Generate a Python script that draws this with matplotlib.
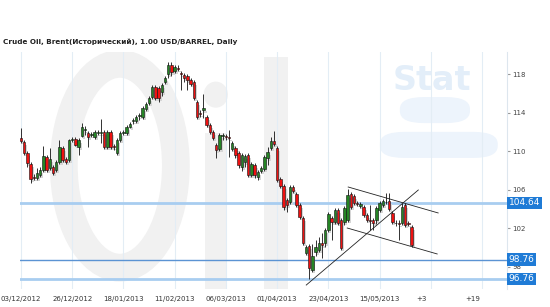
import matplotlib.pyplot as plt
from matplotlib.patches import FancyBboxPatch, Ellipse, Rectangle
import numpy as np

# daily OHLC (bar 0 = 03/12/2012)
opens = [111.37, 110.95, 109.81, 108.67, 107.33, 107.22, 107.53, 108.05, 109.40, 108.26,
         108.36, 108.05, 108.88, 110.33, 109.19, 109.09, 111.16, 111.26, 110.44, 111.58,
         112.20, 111.89, 111.68, 111.47, 111.89, 111.89, 111.99, 110.44, 111.99, 110.54,
         109.81, 111.16, 111.89, 111.89, 112.51, 113.13, 113.13, 113.65, 113.54, 114.37,
         114.99, 115.62, 116.65, 116.55, 116.13, 117.17, 118.00, 118.96, 118.31, 118.62,
         118.10, 117.90, 117.79, 117.38, 117.17, 115.10, 113.96, 114.27, 113.54, 112.72,
         111.99, 110.64, 110.23, 111.58, 111.58, 111.47, 110.23, 110.33, 109.81, 108.36,
         108.88, 109.61, 107.53, 108.57, 107.33, 107.95, 108.16, 109.30, 110.33, 111.06,
         110.33, 107.12, 106.39, 104.94, 104.74, 106.29, 105.56, 104.42, 103.08, 99.45,
         100.18, 97.69, 99.55, 99.76, 100.49, 100.49, 101.83, 103.08, 102.66, 103.91,
         102.87, 102.66, 102.87, 105.56, 105.36, 104.63, 104.32, 104.22, 103.39, 102.87,
         102.87, 102.87, 103.91, 104.42, 104.74, 104.84, 103.60, 102.56, 102.56, 102.56,
         104.42, 102.56, 102.15]
highs = [112.40, 111.16, 110.02, 108.88, 107.64, 108.26, 108.36, 110.54, 109.61, 110.33,
         108.57, 109.09, 111.16, 110.54, 109.40, 111.26, 111.47, 111.47, 111.37, 112.92,
         112.61, 112.09, 111.99, 112.20, 112.20, 113.34, 112.20, 112.20, 112.20, 110.75,
         111.37, 112.09, 112.20, 112.72, 113.03, 113.44, 113.75, 113.96, 114.68, 115.10,
         115.72, 116.86, 116.86, 116.76, 117.07, 117.79, 119.24, 119.24, 118.96, 118.93,
         118.31, 118.10, 118.00, 117.59, 117.38, 115.31, 114.27, 115.93, 113.75, 112.92,
         112.20, 110.85, 111.89, 111.89, 111.78, 112.20, 111.06, 110.54, 110.02, 109.81,
         109.71, 109.81, 108.88, 108.78, 108.05, 108.47, 109.61, 110.44, 111.47, 112.09,
         110.54, 107.33, 106.60, 105.15, 106.50, 106.50, 105.77, 104.63, 103.28, 100.28,
         100.38, 100.38, 100.80, 101.11, 101.52, 102.04, 103.70, 103.28, 104.11, 104.11,
         103.08, 104.32, 106.08, 105.77, 105.56, 104.84, 104.74, 104.42, 103.60, 104.42,
         103.08, 104.32, 104.84, 105.05, 105.67, 105.67, 103.80, 102.87, 102.87, 104.63,
         104.63, 102.77, 102.35]
lows = [110.85, 109.61, 108.36, 106.70, 107.02, 107.02, 107.33, 107.84, 107.84, 108.05,
        107.53, 107.84, 108.67, 108.88, 108.67, 108.88, 110.95, 110.54, 109.61, 111.47,
        111.68, 110.44, 111.47, 111.26, 111.68, 110.85, 110.23, 110.23, 110.23, 110.12,
        109.61, 110.95, 111.68, 111.68, 112.40, 112.82, 112.92, 113.23, 113.34, 114.17,
        114.79, 115.41, 115.31, 115.10, 115.72, 116.96, 117.59, 117.79, 118.10, 118.31,
        116.34, 117.17, 116.34, 116.76, 115.31, 113.34, 113.54, 113.44, 112.51, 111.78,
        111.16, 109.30, 110.02, 111.16, 111.16, 109.40, 110.02, 109.30, 108.26, 107.95,
        108.36, 107.33, 107.33, 107.22, 107.02, 107.74, 107.95, 108.57, 110.12, 110.54,
        106.81, 106.19, 103.91, 103.70, 104.53, 105.67, 104.22, 102.97, 100.28, 99.24,
        96.76, 97.48, 99.14, 99.55, 98.93, 100.07, 101.63, 100.80, 102.46, 102.35,
        99.76, 102.35, 102.66, 104.01, 104.42, 104.32, 104.11, 103.18, 102.66, 101.83,
        101.83, 102.46, 103.70, 104.22, 104.53, 103.80, 102.46, 102.25, 100.80, 102.35,
        102.15, 102.25, 100.07]
closes = [111.06, 109.81, 108.78, 107.12, 107.22, 107.74, 108.05, 109.50, 108.05, 109.19,
          107.74, 108.88, 110.44, 109.09, 108.88, 111.16, 111.26, 110.64, 111.16, 112.51,
          112.30, 111.47, 111.78, 111.99, 111.99, 111.99, 110.44, 111.99, 110.44, 110.44,
          111.16, 111.89, 111.99, 112.51, 112.82, 113.23, 113.54, 113.75, 114.48, 114.89,
          115.51, 116.65, 115.51, 115.51, 116.86, 117.59, 118.93, 118.21, 118.73, 118.57,
          118.00, 117.59, 117.38, 116.96, 115.51, 113.54, 113.85, 114.48, 112.72, 111.99,
          111.37, 110.12, 111.68, 111.68, 111.47, 111.37, 110.85, 109.61, 108.57, 109.61,
          109.50, 107.53, 108.67, 107.53, 107.84, 108.26, 109.40, 109.92, 111.06, 110.75,
          107.02, 106.39, 104.22, 104.42, 106.29, 105.88, 104.42, 103.18, 100.49, 100.07,
          97.90, 99.14, 100.07, 100.49, 100.28, 101.83, 103.49, 102.66, 103.91, 102.56,
          99.97, 104.11, 105.46, 104.22, 104.63, 104.53, 104.53, 103.39, 102.87, 102.77,
          102.56, 104.11, 104.63, 104.84, 104.74, 104.01, 102.66, 102.56, 102.46, 104.22,
          102.35, 102.46, 100.28]

# x axis
tick_pos = [0, 16, 32, 48, 64, 80, 96, 112, 125, 141]
tick_labels = ['03/12/2012', '26/12/2012', '18/01/2013', '11/02/2013', '06/03/2013',
               '01/04/2013', '23/04/2013', '15/05/2013', '+3', '+19']
grid_pos = [0, 16, 32, 48, 64, 80, 96, 112, 128, 144]
y_ticks = [98, 102, 106, 110, 114, 118]

# horizontal levels
levels = [104.64, 98.76, 96.76]
level_colors = ['#a8cdf0', '#5b93d3', '#a8cdf0']
level_widths = [2.0, 1.0, 2.0]

# trend lines: (x0, y0, x1, y1) in bar / price
trend_lines = [(89.1, 96.13, 124.1, 105.98),
               (102.2, 106.29, 130.3, 103.60),
               (101.9, 102.04, 130.0, 99.35)]

opens = np.array(opens)
highs = np.array(highs)
lows = np.array(lows)
closes = np.array(closes)
x = np.arange(len(opens))

fig = plt.figure(figsize=(5.5, 3.07), dpi=100)
ax = fig.add_axes([20 / 550, 1 - 289 / 307, 487 / 550, 237 / 307])
ax.set_xlim(-0.3, 151.8)
ax.set_ylim(95.72, 120.28)

# faint "OilStat" watermark
wm = '#f1f1f1'
T = ax.transAxes
ax.add_patch(Ellipse((0.205, 0.52), 0.23, 0.86, fill=False, ec=wm, lw=20, transform=T, zorder=0))
ax.add_patch(Rectangle((0.38, 0.0), 0.045, 0.66, color=wm, transform=T, zorder=0, lw=0))
ax.add_patch(Ellipse((0.402, 0.82), 0.05, 0.11, color=wm, transform=T, zorder=0, lw=0))
ax.add_patch(Rectangle((0.50, 0.0), 0.05, 0.98, color=wm, transform=T, zorder=0, lw=0))
ax.text(0.766, 0.81, 'Stat', transform=T, fontsize=24, fontweight='bold',
        color='#e3eef9', ha='left', va='bottom', zorder=0)
for xb, yb, wb in [(0.78, 0.70, 0.144), (0.739, 0.553, 0.242)]:
    ax.add_patch(FancyBboxPatch((xb, yb), wb, 0.11, boxstyle='round,pad=0,rounding_size=0.05',
                                transform=T, color='#edf4fc', zorder=0, lw=0))

for g in grid_pos:
    ax.axvline(g, color='#e3edf5', lw=0.8, zorder=1)

for lv, lc, lw in zip(levels, level_colors, level_widths):
    ax.axhline(lv, color=lc, lw=lw, zorder=2)

up = closes >= opens
body_low = np.minimum(opens, closes)
body_h = np.abs(closes - opens)
colors = np.where(up, '#258525', '#ee1111')

# grey shadows
ax.bar(x + 0.6, body_h + 0.05, bottom=body_low - 0.35, width=0.75, color='#d6d6d6',
       lw=0, zorder=2)
ax.vlines(x, lows, highs, color='#111111', lw=0.6, zorder=3)
ax.bar(x, np.maximum(body_h, 0.02), bottom=body_low, width=0.75, color=colors,
       edgecolor='#111111', lw=0.4, zorder=4)

for x0, y0, x1, y1 in trend_lines:
    ax.plot([x0, x1], [y0, y1], color='#222222', lw=0.6, zorder=5)

ax.set_xticks(tick_pos)
ax.set_xticklabels(tick_labels)
ax.set_yticks(y_ticks)
ax.yaxis.tick_right()
ax.tick_params(axis='y', length=2, color='#999999', labelsize=5, labelcolor='#444444', pad=2)
ax.tick_params(axis='x', length=0, labelsize=5, labelcolor='#333333', pad=5)
for s in ['top', 'left', 'bottom']:
    ax.spines[s].set_visible(False)
ax.spines['right'].set_color('#dde6ee')

for lv in levels:
    ax.text(1.003, lv, '%.2f' % lv, transform=ax.get_yaxis_transform(), fontsize=6.5,
            color='white', va='center', ha='left', zorder=6,
            bbox=dict(boxstyle='square,pad=0.2', fc='#1f7bd6', ec='none'))

fig.text(3 / 550, 1 - 42 / 307, 'Crude Oil, Brent(Исторический), 1.00 USD/BARREL, Daily',
         fontsize=5.2, fontweight='bold', color='#222222', va='center', ha='left')

fig.savefig('out.png', dpi=100)
